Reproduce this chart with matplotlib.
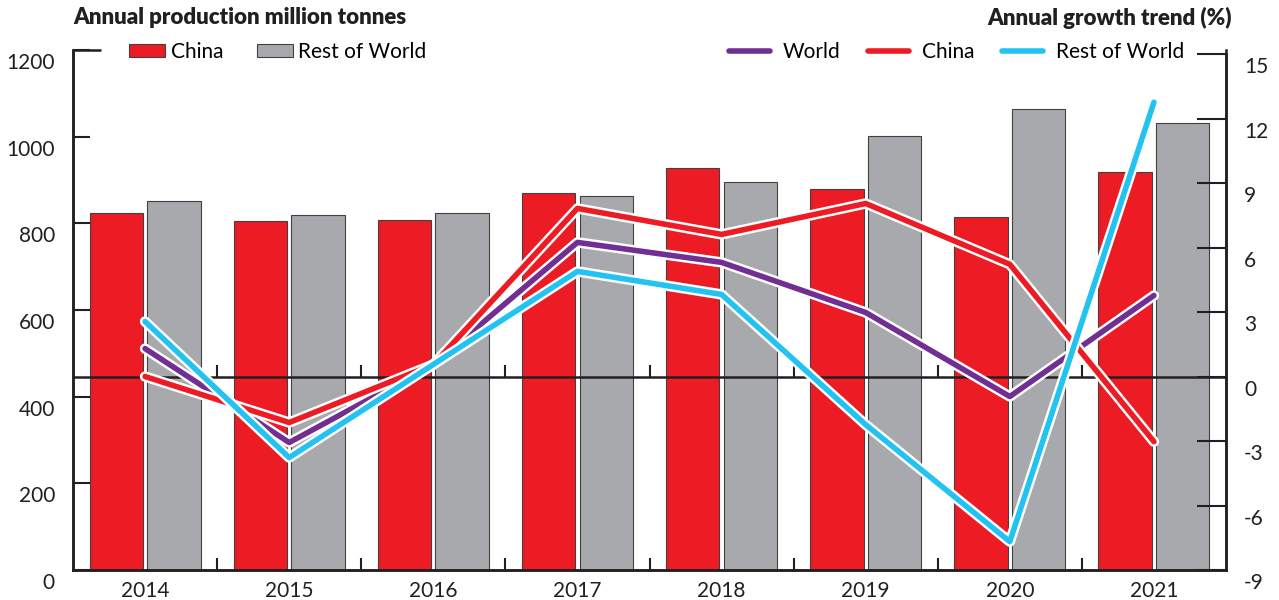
import matplotlib
matplotlib.use('Agg')
import matplotlib.pyplot as plt
import matplotlib.patheffects as pe
import matplotlib.transforms as mtransforms
import numpy as np

years = ['2014', '2015', '2016', '2017', '2018', '2019', '2020', '2021']
china_prod = [824, 805, 808, 870, 928, 879, 815, 918]
row_prod = [852, 819, 824, 863, 895, 1002, 1064, 1032]

world_growth = [1.30, -3.07, 0.56, 6.24, 5.31, 2.98, -0.93, 3.77]
china_growth = [0.0, -2.14, 0.56, 7.82, 6.61, 8.05, 5.22, -3.03]
row_growth = [2.56, -3.77, 0.56, 4.89, 3.82, -2.24, -7.68, 12.76]

left_ticks = [0, 200, 400, 600, 800, 1000, 1200]
right_ticks = [-9, -6, -3, 0, 3, 6, 9, 12, 15]

red = '#ED1C24'
grey = '#A7A9AC'
purple = '#712F94'
cyan = '#22C3F0'
dark = '#231F20'

plt.rcParams['font.family'] = ['Lato', 'DejaVu Sans']
plt.rcParams['font.size'] = 15

fig = plt.figure(figsize=(12.79, 6), dpi=100)
ax = fig.add_axes([73 / 1279, 1 - 570 / 600, (1226 - 73) / 1279, 520 / 600])
ax2 = ax.twinx()

x = np.arange(len(years))
w = 0.37
ax.bar(x - 0.2, china_prod, w, color=red, edgecolor='#414042', linewidth=0.8, label='China')
ax.bar(x + 0.2, row_prod, w, color=grey, edgecolor='#414042', linewidth=0.8, label='Rest of World')

ax.set_xlim(-0.5, len(years) - 0.5)
ax.set_ylim(0, 1200)
ax2.set_ylim(-9, 15.19)

# zero line of growth axis with small ticks at category boundaries
bounds = np.arange(0.5, len(years) - 0.5, 1)
ax2.axhline(0, color=dark, lw=1.8, zorder=1)
ax2.vlines(bounds, 0, 0.55, color=dark, lw=1.5, zorder=1)

stroke = [pe.Stroke(linewidth=7.5, foreground='white'), pe.Normal()]
for vals, col, lab in [(world_growth, purple, 'World'),
                       (china_growth, red, 'China'),
                       (row_growth, cyan, 'Rest of World')]:
    ax2.plot(x, vals, color=col, lw=4, label=lab, solid_capstyle='round',
             path_effects=stroke, zorder=3)

ax.spines['top'].set_visible(False)
ax2.spines['top'].set_visible(False)
for a in (ax, ax2):
    for s in ['left', 'right', 'bottom']:
        a.spines[s].set_linewidth(1.8)
        a.spines[s].set_color(dark)
ax2.spines['right'].set_bounds(-9, 15)

ax.set_xticks(x)
ax.set_xticklabels(years)
ax.set_xticks(bounds, minor=True)
ax.tick_params(axis='x', which='major', length=0, pad=8, labelsize=15, colors=dark)
ax.tick_params(axis='x', which='minor', length=9, width=1.5, direction='in', color=dark)

ax.set_yticks(left_ticks)
ax.tick_params(axis='y', length=12, width=1.5, direction='in', pad=13, labelsize=15, colors=dark)
ax2.set_yticks(right_ticks)
ax2.set_yticklabels([str(t) for t in right_ticks])
ax2.tick_params(axis='y', length=21, width=1.5, direction='in', pad=13, labelsize=15, colors=dark)

# longer top tick on the left axis
ax.plot([0, 28 / 1153], [1, 1], transform=ax.transAxes, color=dark, lw=1.8,
        clip_on=False, solid_capstyle='butt')

offset = mtransforms.ScaledTranslation(0, -11 / 100, fig.dpi_scale_trans)
for lbl in ax.get_yticklabels() + ax2.get_yticklabels():
    lbl.set_transform(lbl.get_transform() + offset)

fig.text(73 / 1279, 1 - 18 / 600, 'Annual production million tonnes', fontsize=16,
         fontweight='heavy', ha='left', va='center', color=dark)
fig.text(1232 / 1279, 1 - 18 / 600, 'Annual growth trend (%)', fontsize=16,
         fontweight='heavy', ha='right', va='center', color=dark)

fig.legend(*ax.get_legend_handles_labels(), loc='center left',
           bbox_to_anchor=(129 / 1279, 1 - 52 / 600), ncol=2, frameon=False,
           borderpad=0, borderaxespad=0, handlelength=1.75, handleheight=0.6,
           handletextpad=0.25, columnspacing=1.6, fontsize=15)
fig.legend(*ax2.get_legend_handles_labels(), loc='center right',
           bbox_to_anchor=(1184 / 1279, 1 - 52 / 600), ncol=3, frameon=False,
           borderpad=0, borderaxespad=0, handlelength=2.0,
           handletextpad=0.6, columnspacing=1.3, fontsize=15)
for lh in fig.legends[1].get_lines():
    lh.set_path_effects([])
    lh.set_linewidth(4)

fig.savefig('out.png', dpi=100)
